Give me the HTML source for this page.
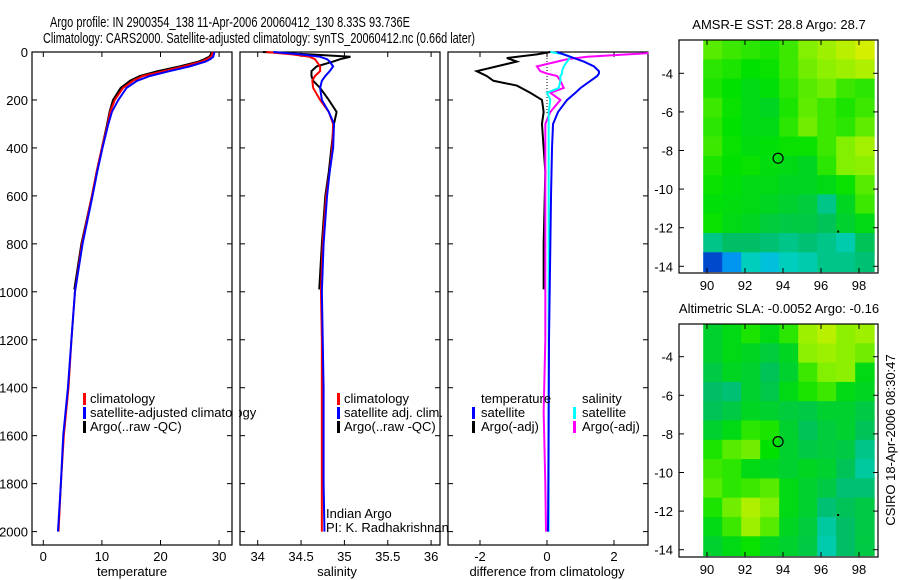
<!DOCTYPE html>
<html><head><meta charset="utf-8"><style>
html,body{margin:0;padding:0;background:#fff;}
svg{display:block;font-family:"Liberation Sans",sans-serif;}
</style></head><body>
<svg id="fig" width="900" height="580" viewBox="0 0 900 580" xmlns="http://www.w3.org/2000/svg">
<text x="50" y="27" font-size="15" textLength="360" lengthAdjust="spacingAndGlyphs">Argo profile: IN 2900354_138 11-Apr-2006 20060412_130 8.33S 93.736E</text>
<text x="43" y="43" font-size="15" textLength="432" lengthAdjust="spacingAndGlyphs">Climatology: CARS2000. Satellite-adjusted climatology: synTS_20060412.nc (0.66d later)</text>
</svg>
<script>
// ---- data ----
const depthLevels = [0,10,20,30,40,60,80,100,120,150,200,250,300,400,500,600,800,1000,1200,1400,1600,1800,2000];
const tempClim = [28.9,28.8,28.6,27.9,27,24,20.5,17,15.3,13.6,12.2,11.4,11,10,9.1,8.3,6.6,5.4,4.8,4.3,3.5,3.0,2.6];
const tempSat  = [29.2,29.1,29,28.5,27.7,25,21.5,18.2,16,14.2,12.8,11.7,11.1,10.1,9.2,8.4,6.7,5.4,4.8,4.2,3.4,3.0,2.5];
const argoDepths = [0,10,20,30,40,60,80,100,120,150,200,250,300,400,500,600,800,990];
const tempArgo = [28.7,28.6,28.3,27.5,26.5,23.3,19.5,16.5,14.8,13.2,11.9,11.3,10.9,10,9.1,8.3,6.5,5.3];
const salClim = [34.1,34.4,34.6,34.66,34.68,34.72,34.72,34.66,34.63,34.64,34.72,34.82,34.87,34.86,34.83,34.79,34.75,34.73,34.74,34.74,34.74,34.74,34.74];
const salSat  = [34.18,34.5,34.72,34.8,34.83,34.87,34.83,34.78,34.74,34.72,34.74,34.82,34.88,34.87,34.83,34.8,34.76,34.74,34.75,34.76,34.76,34.76,34.77];
const salArgo = [34.06,34.6,35.07,34.95,34.87,34.68,34.62,34.62,34.64,34.72,34.82,34.91,34.88,34.85,34.82,34.78,34.74,34.71];
const diffDepths = [0,5,10,20,30,40,60,80,90,100,120,150,170,200,250,300,400,600,800,1000,1200,1500,1800,2000];
const dTempSat = [0.3,0.4,0.5,0.7,0.9,1.1,1.4,1.55,1.55,1.5,1.3,1.0,0.85,0.6,0.33,0.18,0.15,0.12,0.1,0.08,0.06,0.05,0.04,0.03];
const dSalSat  = [0.1,0.3,0.5,0.7,0.65,0.6,0.5,0.45,0.45,0.4,0.4,0.35,0.0,0.1,0.05,0.05,0.05,0.05,0.05,0.05,0.05,0.05,0.05,0.05];
const dSalArgo = [3.0,3.0,2.4,1.2,0.6,0.3,-0.3,-0.2,0.0,0.3,0.4,0.5,0.1,0.4,0.1,-0.05,-0.05,-0.05,-0.05,-0.05,-0.05,-0.1,-0.05,-0.03];
const argoDiffDepths = [0,10,25,40,60,80,100,120,140,170,200,250,300,500,800,990];
const dTempArgo = [0.1,-0.3,-1.2,-0.9,-1.5,-2.1,-1.8,-1.6,-0.9,-0.5,-0.15,-0.1,-0.15,-0.05,-0.1,-0.1];
const tempTicks = [0,10,20,30];
const salTicks = [34,34.5,35,35.5,36];
const salTickLabels = ["34","34.5","35","35.5","36"];
const diffTicks = [-2,0,2];
const depthTicks = [0,200,400,600,800,1000,1200,1400,1600,1800,2000];
const lonTicks = [90,92,94,96,98];
const latTicks = [-4,-6,-8,-10,-12,-14];
const sstGrid = [
[.75,.72,.70,.68,.72,.80,.85,.90,.95],
[.70,.68,.65,.66,.72,.78,.82,.85,.88],
[.68,.65,.62,.64,.70,.75,.78,.72,.70],
[.72,.66,.62,.60,.68,.76,.72,.68,.72],
[.70,.65,.62,.62,.70,.78,.72,.70,.76],
[.72,.66,.63,.64,.66,.66,.72,.80,.86],
[.68,.65,.66,.63,.62,.60,.70,.80,.82],
[.66,.64,.62,.62,.60,.60,.62,.66,.75],
[.64,.63,.62,.60,.58,.56,.45,.60,.72],
[.66,.62,.60,.56,.55,.55,.52,.58,.62],
[.45,.50,.50,.48,.45,.48,.45,.40,.52],
[.12,.25,.38,.32,.38,.40,.45,.45,.48]];
const slaGrid = [
[.58,.62,.68,.62,.70,.85,.90,.82,.85],
[.58,.62,.60,.56,.60,.82,.85,.82,.78],
[.55,.60,.58,.52,.58,.72,.80,.82,.62],
[.50,.48,.58,.54,.62,.68,.72,.62,.60],
[.52,.55,.60,.58,.56,.55,.58,.58,.55],
[.58,.62,.70,.68,.58,.52,.56,.58,.52],
[.68,.75,.78,.65,.58,.55,.56,.55,.45],
[.72,.70,.62,.60,.58,.60,.58,.52,.42],
[.75,.70,.72,.75,.62,.58,.55,.48,.48],
[.68,.78,.88,.80,.62,.58,.48,.52,.55],
[.62,.72,.85,.75,.60,.56,.42,.50,.55],
[.58,.62,.66,.60,.58,.55,.40,.50,.55]];
const argoLon = [93.74];
const argoLat = [-8.4];

// ---- helpers ----
const NS = "http://www.w3.org/2000/svg";
const svg = document.getElementById('fig');
function mk(tag, attrs, parent){const e=document.createElementNS(NS,tag);for(const k in attrs)e.setAttribute(k,attrs[k]);(parent||svg).appendChild(e);return e;}
const yD = d => 52 + d*0.2398;
const xT = t => 43.3 + t*5.86;
const xS = s => 257.7 + (s-34)*86.7;
const xDf = v => 547 + Math.max(-3.05,Math.min(3.05,v))*33.5;
const PT=52, PB=545;

function frame(x0,x1,name){
  const r=mk('rect',{x:x0,y:PT,width:x1-x0,height:PB-PT,fill:'none',stroke:'#000','stroke-width':1.2});
  
  
  depthTicks.forEach(d=>{const y=yD(d);mk('line',{x1:x0,x2:x0+5,y1:y,y2:y,stroke:'#000'});mk('line',{x1:x1,x2:x1-5,y1:y,y2:y,stroke:'#000'});});
}
function xticks(vals,labels,fx,x0,name){
  vals.forEach((v,i)=>{const x=fx(v);mk('line',{x1:x,x2:x,y1:PB,y2:PB-5,stroke:'#000'});mk('line',{x1:x,x2:x,y1:PT,y2:PT+5,stroke:'#000'});
    const t=mk('text',{x:x,y:PB+16,'font-size':13,'text-anchor':'middle'});t.textContent=labels[i];
    
    });
}
function line(xs,ds,fx,color,name,w){
  const p=xs.map((v,i)=>fx(v)+','+yD(ds[i])).join(' ');
  const e=mk('polyline',{points:p,fill:'none',stroke:color,'stroke-width':w||2});
  
  
}
function label(x,y,txt,name,opts){const t=mk('text',Object.assign({x:x,y:y,'font-size':13},opts||{}));t.textContent=txt;
  
  return t;}
function legend(mx,tx,y,color,txt,name){mk('rect',{x:mx,y:y-10,width:3,height:12,fill:color});label(tx,y,txt,name);}

// depth labels
depthTicks.forEach(d=>label(28,yD(d)+5,String(d),'depth-tick-label',{'text-anchor':'end'}));

// Panel 1 temperature
frame(32,232,'temperature-panel');
xticks(tempTicks,tempTicks.map(String),xT,32,'temperature');
line(tempArgo,argoDepths,xT,'#000','temp-argo-line');
line(tempClim,depthLevels,xT,'#f00','temp-climatology-line');
line(tempSat,depthLevels,xT,'#00f','temp-satellite-line');
label(132,576,'temperature','temperature-axis-title',{'text-anchor':'middle'});
legend(83,90,403,'#f00','climatology','legend-climatology');
legend(83,90,417,'#00f','satellite-adjusted climatology','legend-satellite-adjusted');
legend(83,90,431,'#000','Argo(..raw -QC)','legend-argo');

// Panel 2 salinity
mk('rect',{x:233,y:PT-2,width:6,height:PB-PT+4,fill:'#fff'});
frame(240,440,'salinity-panel');
xticks(salTicks,salTickLabels,xS,240,'salinity');
line(salArgo,argoDepths,xS,'#000','sal-argo-line');
line(salClim,depthLevels,xS,'#f00','sal-climatology-line');
line(salSat,depthLevels,xS,'#00f','sal-satellite-line');
label(337,576,'salinity','salinity-axis-title',{'text-anchor':'middle'});
legend(337,344,403,'#f00','climatology','legend-climatology-2');
legend(337,344,417,'#00f','satellite adj. clim.','legend-satellite-2');
legend(337,344,431,'#000','Argo(..raw -QC)','legend-argo-2');
label(326,518,'Indian Argo','credit-indian-argo');
label(326,532,'PI: K. Radhakrishnan','credit-pi');

// Panel 3 differences
frame(448,648,'difference-panel');
xticks(diffTicks,diffTicks.map(String),xDf,448,'difference');
mk('line',{x1:xDf(0),x2:xDf(0),y1:PT,y2:yD(260),stroke:'#000','stroke-dasharray':'1,2'});
line(dTempArgo,argoDiffDepths,xDf,'#000','diff-temp-argo-line');
line(dSalArgo,diffDepths,xDf,'#f0f','diff-sal-argo-line');
line(dSalSat,diffDepths,xDf,'#0ff','diff-sal-satellite-line');
line(dTempSat,diffDepths,xDf,'#00f','diff-temp-satellite-line');
label(547,576,'difference from climatology','difference-axis-title',{'text-anchor':'middle'});
label(481,403,'temperature','legend-temperature-heading');
legend(472,481,417,'#00f','satellite','legend-temp-satellite');
legend(472,481,431,'#000','Argo(-adj)','legend-temp-argo');
label(582,403,'salinity','legend-salinity-heading');
legend(573,582,417,'#0ff','satellite','legend-sal-satellite');
legend(573,582,431,'#f0f','Argo(-adj)','legend-sal-argo');

// maps
function cmap(v){
  const stops=[[0,[0,0,128]],[0.2,[0,120,255]],[0.35,[0,210,210]],[0.5,[0,190,100]],[0.65,[0,225,0]],[0.8,[130,240,0]],[1,[240,240,0]]];
  for(let i=1;i<stops.length;i++){if(v<=stops[i][0]){const a=stops[i-1],b=stops[i],f=(v-a[0])/(b[0]-a[0]);
    return 'rgb('+a[1].map((c,j)=>Math.round(c+(b[1][j]-c)*f)).join(',')+')';}}
  return 'rgb(240,240,0)';
}
function map(top,lat4y,grid,title,name){
  const xL=lon=>707+(lon-90)*19;
  const yL=lat=>lat4y+(-4-lat)*19.3;
  const fx0=679,fx1=878,fy0=top,fy1=top+233;
  const g=mk('g',{});
  
  
  const lon0=89.8, lat0=-4+(lat4y-top)/19.3;
  grid.forEach((row,r)=>row.forEach((v,c)=>{
    const x=xL(lon0+c), y=yL(lat0-r), x2=Math.min(fx1,xL(lon0+c+1)), y2=Math.min(fy1,yL(lat0-r-1));
    const cell=mk('rect',{x:x,y:y,width:x2-x+0.5,height:y2-y+0.5,fill:cmap(v)},g);
    
    
  }));
  mk('rect',{x:fx0,y:fy0,width:fx1-fx0,height:fy1-fy0,fill:'none',stroke:'#000','stroke-width':1.2});
  lonTicks.forEach(l=>{const x=xL(l);mk('line',{x1:x,x2:x,y1:fy1,y2:fy1-5,stroke:'#000'});mk('line',{x1:x,x2:x,y1:fy0,y2:fy0+5,stroke:'#000'});
    label(x,fy1+17,String(l),'lon-tick-label',{'text-anchor':'middle'});});
  latTicks.forEach(l=>{const y=yL(l);mk('line',{x1:fx0,x2:fx0+5,y1:y,y2:y,stroke:'#000'});mk('line',{x1:fx1,x2:fx1-5,y1:y,y2:y,stroke:'#000'});
    label(673,y+5,String(l),'lat-tick-label',{'text-anchor':'end'});});
  argoLon.forEach((lo,i)=>{const c=mk('circle',{cx:xL(lo),cy:yL(argoLat[i]),r:5,fill:'none',stroke:'#000','stroke-width':1.2});
    
    });
  mk('rect',{x:xL(96.85),y:yL(-12.15),width:2,height:2,fill:'#000'});
  label(779,top-11,title,name+'-title',{'text-anchor':'middle'});
}
map(40,73.3,sstGrid,'AMSR-E SST: 28.8  Argo: 28.7','sst-map');
map(324,356.7,slaGrid,'Altimetric SLA: -0.0052  Argo: -0.16','sla-map');
label(0,0,'CSIRO 18-Apr-2006 08:30:47','timestamp',{transform:'translate(895,440) rotate(-90)','text-anchor':'middle'});
</script>
</body></html>
